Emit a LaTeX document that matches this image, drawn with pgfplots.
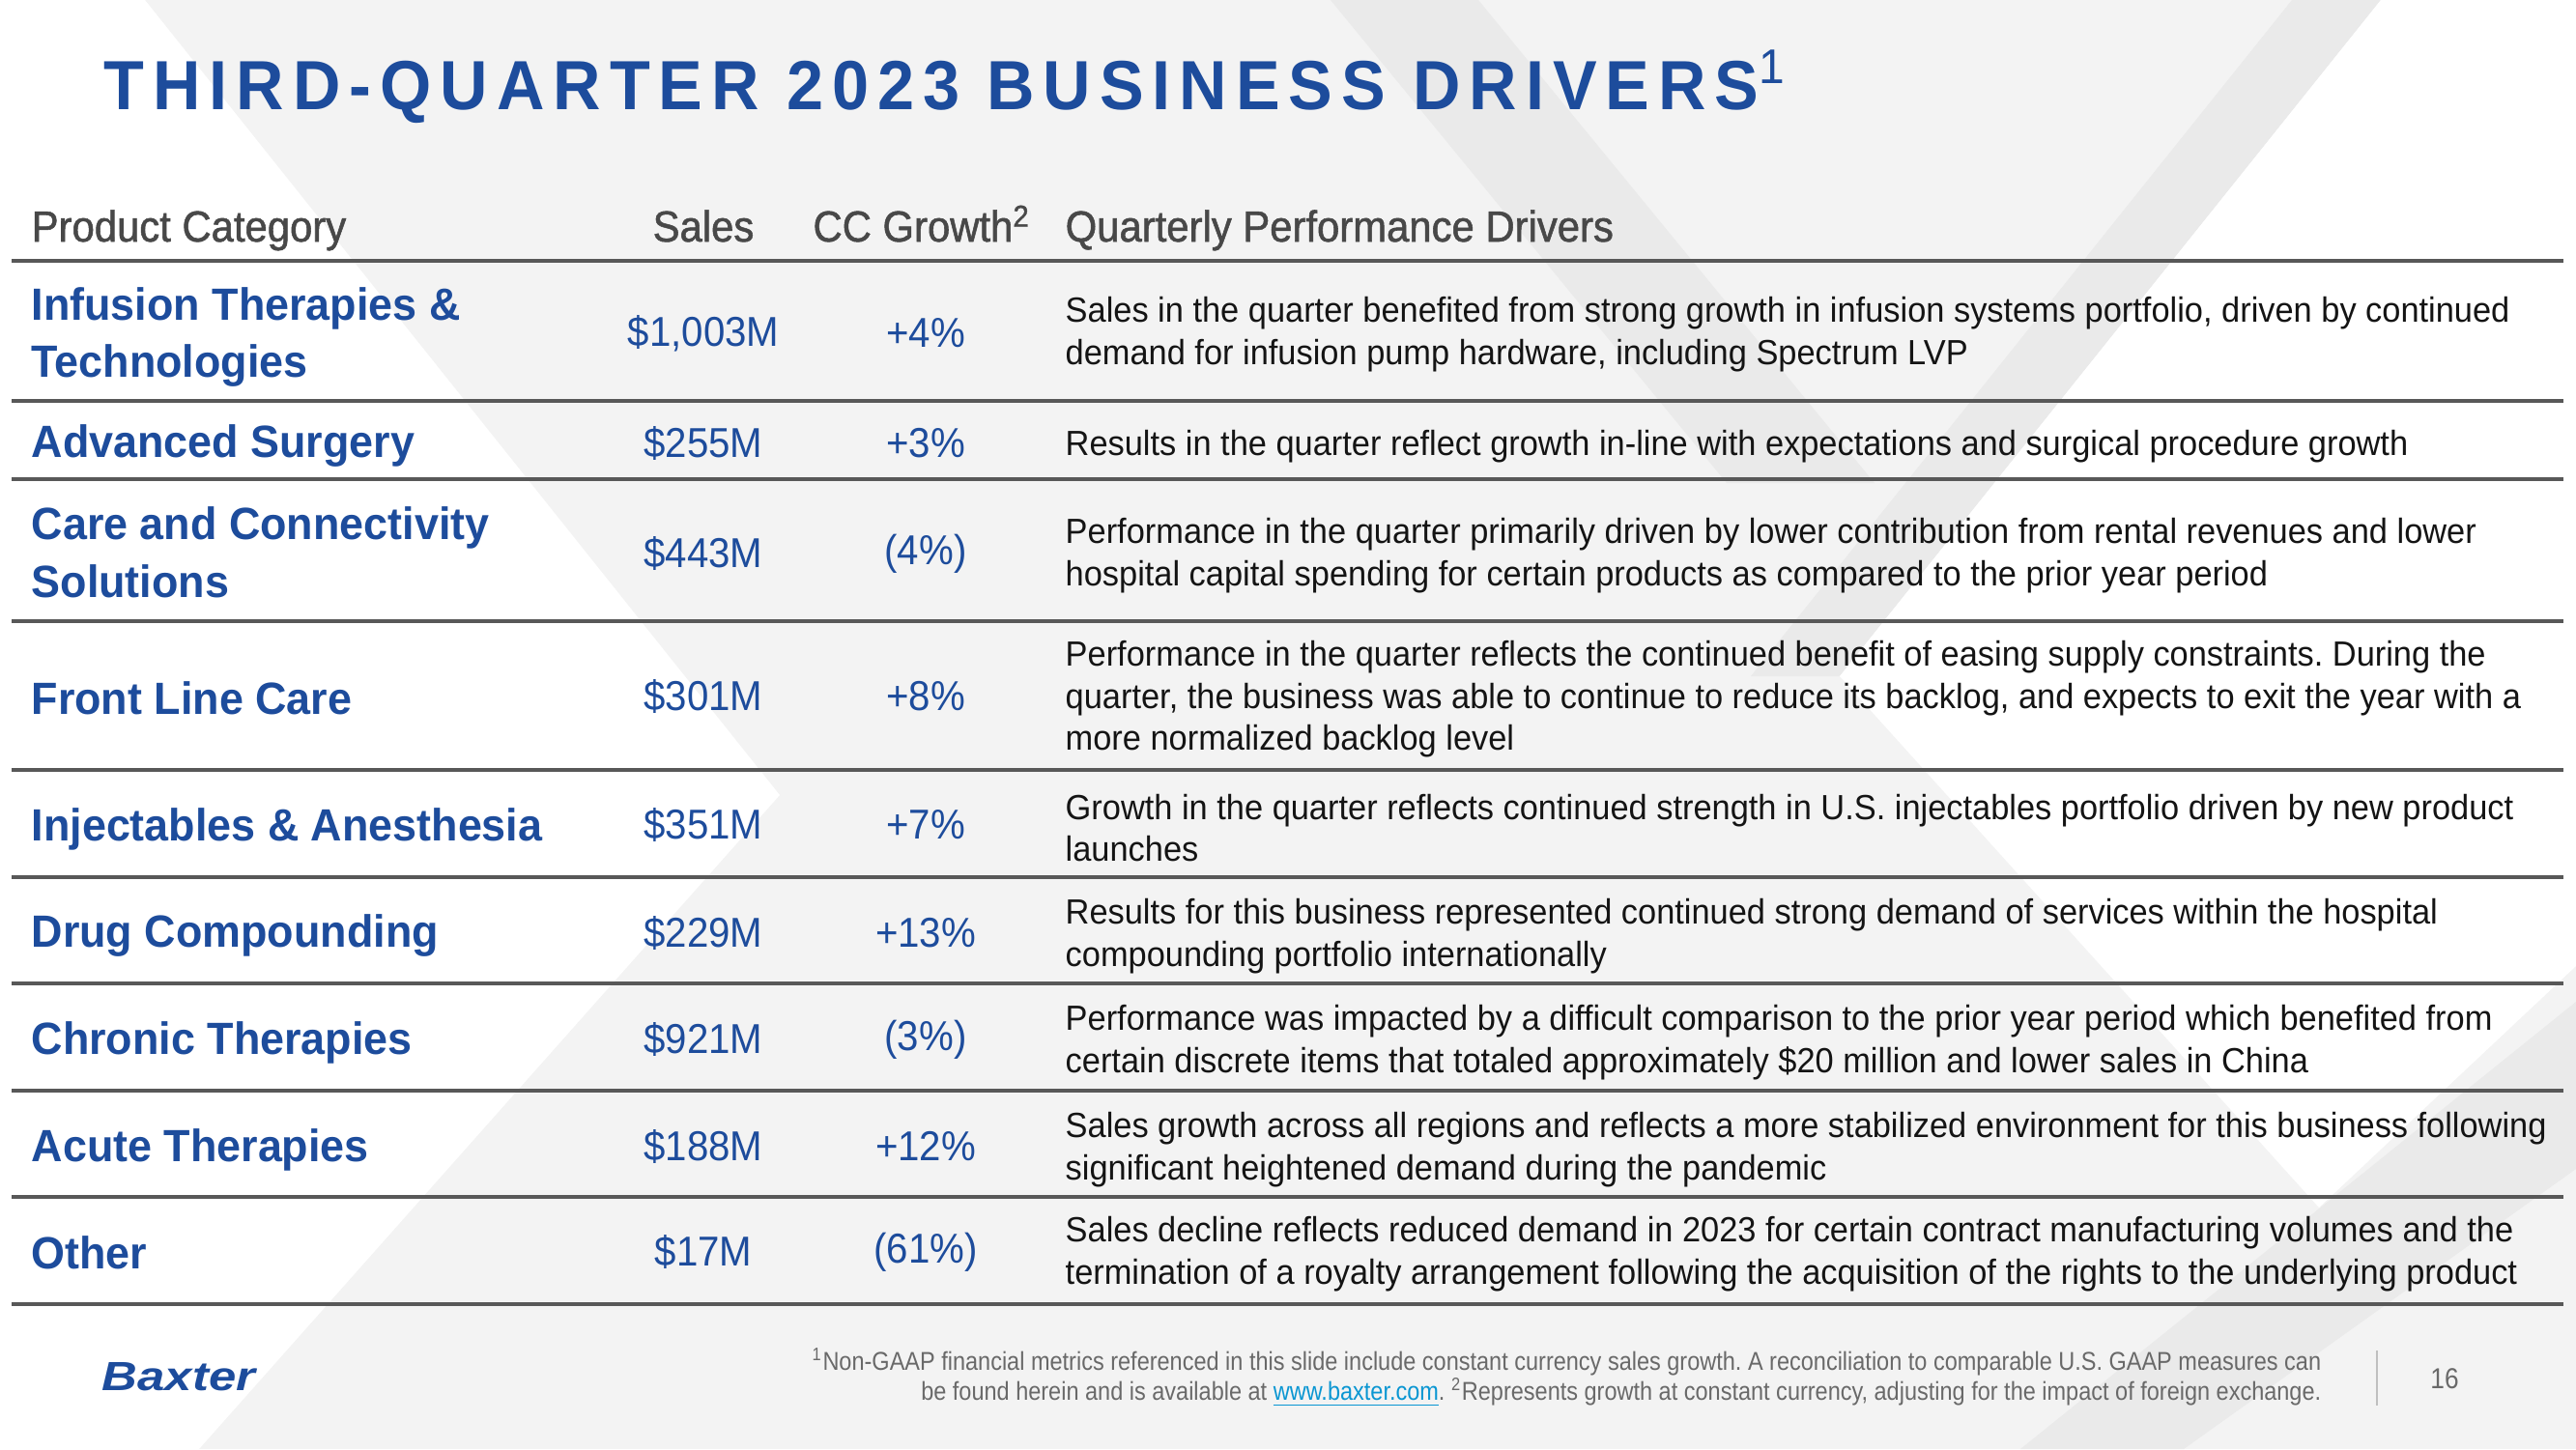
\documentclass[border=0pt]{standalone}
\usepackage{fontspec}
\setmainfont{Liberation Sans}[FakeStretch=0.88]
\newfontfamily\titlefont{Liberation Sans}[FakeStretch=0.95,LetterSpace=12.5]
\newfontfamily\descfont{Liberation Sans}[FakeStretch=0.95]
\newfontfamily\catfont{Liberation Sans}[FakeStretch=0.96]
\newfontfamily\numfont{Liberation Sans}[FakeStretch=0.93]
\newfontfamily\hdrfont{Liberation Sans}[FakeStretch=0.93,FakeBold=1.2]
\usepackage{pgfplots}
\pgfplotsset{compat=1.18}
\frenchspacing

\definecolor{baxblue}{RGB}{29,76,156}
\definecolor{hdrgray}{RGB}{72,72,72}
\definecolor{rulegray}{RGB}{88,88,88}
\definecolor{notegray}{RGB}{105,105,105}
\definecolor{linkblue}{RGB}{10,150,210}
\definecolor{bgbase}{RGB}{243,243,243}
\definecolor{bgband}{RGB}{234,234,234}

\tikzset{
  cat/.style={anchor=west,inner sep=0pt,align=left,text=baxblue,
    font={\catfont\fontsize{13.3}{17}\selectfont\bfseries}},
  num/.style={anchor=center,inner sep=0pt,text=baxblue,
    font={\numfont\fontsize{12.3}{14}\selectfont}},
  desc/.style={anchor=west,inner sep=0pt,align=left,text=black!92,
    font={\descfont\fontsize{10.3}{12.4}\selectfont}},
  hdr/.style={inner sep=0pt,text=hdrgray,font={\hdrfont\fontsize{12.8}{14}\selectfont}},
}

\begin{document}
\begin{tikzpicture}
\begin{axis}[
  width=26.66cm, height=15cm, scale only axis,
  xmin=0, xmax=2666, ymin=0, ymax=1500, y dir=reverse,
  hide axis, clip=false]

% background shapes
\addplot[fill=bgbase, draw=none] coordinates {(0,0) (2666,0) (2666,1500) (0,1500)} -- cycle;
\addplot[fill=bgband, draw=none] coordinates {(1377,0) (1530,0) (1940,500) (1787,500)} -- cycle;
\addplot[fill=bgband, draw=none] coordinates {(2372,0) (2464,0) (1904,700) (1812,700)} -- cycle;
\addplot[fill=white, draw=none] coordinates {(0,0) (150,0) (807,823) (206,1500) (0,1500)} -- cycle;
\addplot[fill=white, draw=none] coordinates {(2464,0) (2666,0) (2666,1000) (2400,1250) (1904,700)} -- cycle;
\addplot[fill=bgband, draw=none] coordinates {(2091,1500) (2260,1500) (2666,1210) (2666,1037)} -- cycle;

% title
\node[anchor=base west,inner sep=0pt,text=baxblue] at (axis cs:107,113)
  {\titlefont\fontsize{20.5}{24}\selectfont\bfseries THIRD-QUARTER 2023 BUSINESS DRIVERS\textsuperscript{\mdseries 1}};

% header
\node[hdr,anchor=base west] at (axis cs:32,250) {Product Category};
\node[hdr,anchor=base] at (axis cs:728,250) {Sales};
\node[hdr,anchor=base] at (axis cs:954,250) {CC Growth\textsuperscript{2}};
\node[hdr,anchor=base west] at (axis cs:1102,250) {Quarterly Performance Drivers};

% rules
\addplot[draw=rulegray, line width=0.9pt, unbounded coords=jump] coordinates {
  (12,270) (2653,270) (nan,nan)
  (12,415) (2653,415) (nan,nan)
  (12,496) (2653,496) (nan,nan)
  (12,643) (2653,643) (nan,nan)
  (12,797) (2653,797) (nan,nan)
  (12,908) (2653,908) (nan,nan)
  (12,1018) (2653,1018) (nan,nan)
  (12,1129) (2653,1129) (nan,nan)
  (12,1239) (2653,1239) (nan,nan)
  (12,1350) (2653,1350)
};

% rows
\node[cat] at (axis cs:32,349) {Infusion Therapies \&\\Technologies};
\node[num] at (axis cs:728,345) {\$1,003M};
\node[num] at (axis cs:958,345) {+4\%};
\node[desc] at (axis cs:1102,346) {Sales in the quarter benefited from strong growth in infusion systems portfolio, driven by continued\\demand for infusion pump hardware, including Spectrum LVP};

\node[cat] at (axis cs:32,462) {Advanced Surgery};
\node[num] at (axis cs:728,459) {\$255M};
\node[num] at (axis cs:958,459) {+3\%};
\node[desc] at (axis cs:1102,462) {Results in the quarter reflect growth in-line with expectations and surgical procedure growth};

\node[cat] at (axis cs:32,572) {Care and Connectivity\\Solutions};
\node[num] at (axis cs:728,573) {\$443M};
\node[num] at (axis cs:958,573) {(4\%)};
\node[desc] at (axis cs:1102,575) {Performance in the quarter primarily driven by lower contribution from rental revenues and lower\\hospital capital spending for certain products as compared to the prior year period};

\node[cat] at (axis cs:32,723) {Front Line Care};
\node[num] at (axis cs:728,721) {\$301M};
\node[num] at (axis cs:958,721) {+8\%};
\node[desc] at (axis cs:1102,724) {Performance in the quarter reflects the continued benefit of easing supply constraints. During the\\quarter, the business was able to continue to reduce its backlog, and expects to exit the year with a\\more normalized backlog level};

\node[cat] at (axis cs:32,858) {Injectables \& Anesthesia};
\node[num] at (axis cs:728,854) {\$351M};
\node[num] at (axis cs:958,854) {+7\%};
\node[desc] at (axis cs:1102,857) {Growth in the quarter reflects continued strength in U.S.\ injectables portfolio driven by new product\\launches};

\node[cat] at (axis cs:32,969) {Drug Compounding};
\node[num] at (axis cs:728,966) {\$229M};
\node[num] at (axis cs:958,966) {+13\%};
\node[desc] at (axis cs:1102,969) {Results for this business represented continued strong demand of services within the hospital\\compounding portfolio internationally};

\node[cat] at (axis cs:32,1079) {Chronic Therapies};
\node[num] at (axis cs:728,1076) {\$921M};
\node[num] at (axis cs:958,1076) {(3\%)};
\node[desc] at (axis cs:1102,1079) {Performance was impacted by a difficult comparison to the prior year period which benefited from\\certain discrete items that totaled approximately \$20 million and lower sales in China};

\node[cat] at (axis cs:32,1190) {Acute Therapies};
\node[num] at (axis cs:728,1187) {\$188M};
\node[num] at (axis cs:958,1187) {+12\%};
\node[desc] at (axis cs:1102,1190) {Sales growth across all regions and reflects a more stabilized environment for this business following\\significant heightened demand during the pandemic};

\node[cat] at (axis cs:32,1297) {Other};
\node[num] at (axis cs:728,1296) {\$17M};
\node[num] at (axis cs:958,1296) {(61\%)};
\node[desc] at (axis cs:1102,1298) {Sales decline reflects reduced demand in 2023 for certain contract manufacturing volumes and the\\termination of a royalty arrangement following the acquisition of the rights to the underlying product};

% footer
\node[inner sep=0pt,text=baxblue] at (axis cs:185,1425)
  {\scalebox{1.37}[1]{\fontsize{12}{14}\selectfont\bfseries\itshape Baxter}};
\node[anchor=base east,inner sep=0pt,text=notegray,font={\fontsize{7.6}{9}\selectfont}] at (axis cs:2403,1418)
  {\textsuperscript{1}Non-GAAP financial metrics referenced in this slide include constant currency sales growth. A reconciliation to comparable U.S. GAAP measures can};
\node[anchor=base east,inner sep=0pt,text=notegray,font={\fontsize{7.6}{9}\selectfont}] at (axis cs:2403,1449)
  {be found herein and is available at \textcolor{linkblue}{\underline{www.baxter.com}}. \textsuperscript{2}Represents growth at constant currency, adjusting for the impact of foreign exchange.};
\addplot[draw=black!25, line width=0.6pt] coordinates {(2460,1398) (2460,1455)};
\node[inner sep=0pt,text=notegray,font={\fontsize{8.5}{10}\selectfont}] at (axis cs:2530,1427) {16};

\end{axis}
\end{tikzpicture}
\end{document}
